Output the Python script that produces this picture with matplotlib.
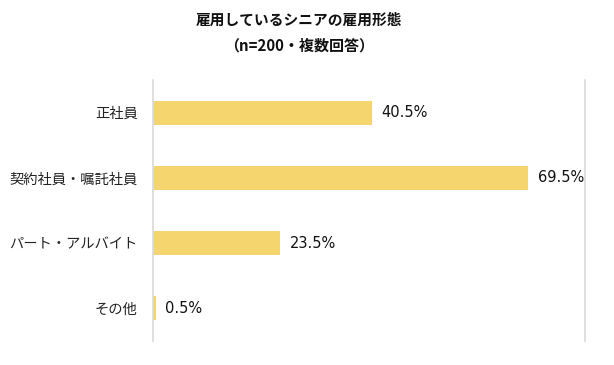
import matplotlib
matplotlib.use("Agg")
import matplotlib.pyplot as plt

plt.rcParams['font.family'] = ['Noto Sans CJK JP', 'DejaVu Sans']

categories = ["正社員", "契約社員・嘱託社員", "パート・アルバイト", "その他"]
values = [40.5, 69.5, 23.5, 0.5]
value_labels = ["40.5%", "69.5%", "23.5%", "0.5%"]
title_lines = ["雇用しているシニアの雇用形態", "（n=200・複数回答）"]

fig = plt.figure(figsize=(6.14, 3.65), dpi=100)
ax = fig.add_axes([153/614, 24/365, 432/614, 261/365])

bar_color = "#F5D66E"
ypos = list(range(len(categories)))
ax.barh(ypos, values, height=0.37, color=bar_color)
ax.set_xlim(0, 80)
ax.set_ylim(len(categories) - 0.5, -0.5)
ax.set_yticks(ypos)
ax.set_yticklabels(categories, fontsize=10.3, color="#222222")
ax.tick_params(axis='y', length=0, pad=11)
ax.set_xticks([])

for sp in ['top', 'bottom']:
    ax.spines[sp].set_visible(False)
for sp in ['left', 'right']:
    ax.spines[sp].set_color("#D9D9D9")
    ax.spines[sp].set_linewidth(1.2)

for y, v, lab in zip(ypos, values, value_labels):
    ax.annotate(lab, xy=(v, y), xytext=(7, 0), textcoords='offset points',
                va='center', ha='left', fontsize=10.5, color="#111111",
                family=['DejaVu Sans'])

fig.text(299/614, 1 - 20/365, title_lines[0], ha='center', va='center',
         fontsize=10.6, fontweight='bold', color="#111111")
fig.text(299/614, 1 - 46/365, title_lines[1], ha='center', va='center',
         fontsize=10.8, fontweight='bold', color="#111111")

fig.savefig("out.png", dpi=100)
